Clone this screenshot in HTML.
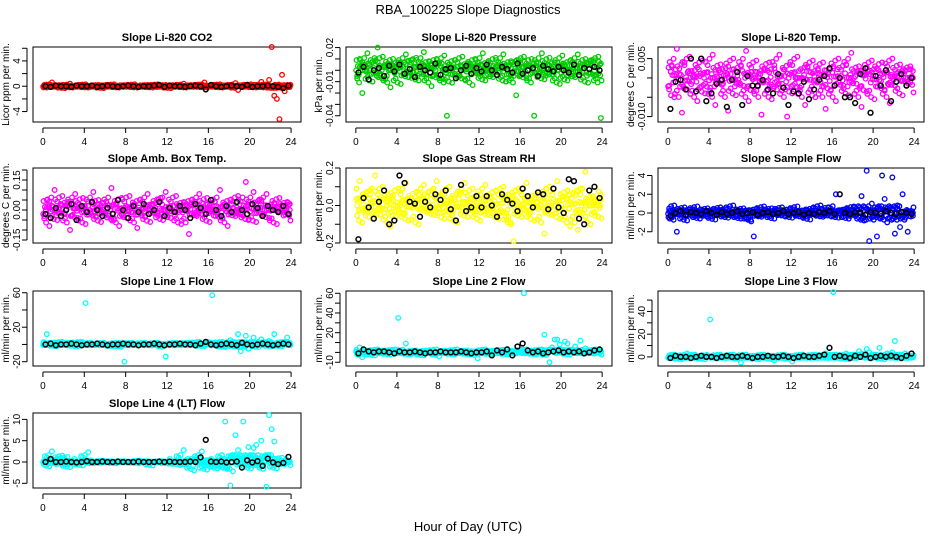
<!DOCTYPE html>
<html><head><meta charset="utf-8"><style>
body{margin:0;background:#fff;}
svg{display:block;font-family:"Liberation Sans",sans-serif;}
</style></head><body>
<svg id="c" width="936" height="540" viewBox="0 0 936 540">
<text x="468" y="14" text-anchor="middle" font-size="13">RBA_100225  Slope Diagnostics</text>
<text x="468" y="531" text-anchor="middle" font-size="13">Hour of Day (UTC)</text>
</svg>
<script>
const titles=["Slope Li-820 CO2","Slope Li-820 Pressure","Slope Li-820 Temp.","Slope Amb. Box Temp.","Slope Gas Stream RH","Slope Sample Flow","Slope Line 1 Flow","Slope Line 2 Flow","Slope Line 3 Flow","Slope Line 4 (LT) Flow"];
const ylabels=["Licor ppm per min.","kPa per min.","degrees C per min.","degrees C per min.","percent per min.","ml/min per min.","ml/min per min.","ml/min per min.","ml/min per min.","ml/min per min."];
const colors=["#ff0000","#00cc00","#ff00ff","#ff00ff","#ffff00","#0000ff","#00ffff","#00ffff","#00ffff","#00ffff"];
const scales=[10,1000,10000,100,100,10,1,1,1,10];
const yMin=[-5.65,-0.0455,-0.0114,-0.165,-0.2,-3.2,-25,-13.8,-8,-6.1];
const yMax=[6.2,0.0205,0.008,0.21,0.2,4.8,62,62.3,58,11.5];
const yTicks=[[-4,-2,0,2,4,6],[-0.04,-0.03,-0.02,-0.01,0,0.01,0.02],[-0.01,-0.005,0,0.005],[-0.15,-0.1,-0.05,0,0.05,0.1,0.15,0.2],[-0.2,-0.1,0,0.1,0.2],[-2,0,2,4],[-20,0,20,40,60],[-10,0,10,20,30,40,50,60],[0,10,20,30,40,50],[-5,0,5,10]];
const yTickLabels=[["-4","","0","","4",""],["-0.04","","","-0.01","","","0.02"],["-0.010","","","0.005"],["-0.15","","","0.00","","","0.15",""],["-0.2","","0.0","","0.2"],["-2","0","2","4"],["-20","","20","","60"],["-10","","","20","","40","","60"],["0","","20","","40",""],["-5","0","5","10"]];
const xTicks=[0,4,8,12,16,20,24];
const c1=[1,-2,3,6,2,-1,0,2,-3,1,4,-2,0,1,-1,2,3,-2,1,0,-1,2,1,-3,0,2,-1,3,1,-2,0,1,2,-1,0,3,-2,1,0,-1,2,1,-2,0,3,1,-1,2,0,-3,1,2,-1,0,4,-2,1,0,2,-1,0,3,6,-2,1,0,-1,2,3,-2,1,0,2,-1,5,-6,1,0,2,-1,3,1,-2,0,7,1,-2,10,62,-15,-20,-52,18,-8,2,1];
const k1=[0,-1,1,0,0,-1,1,0,0,1,-1,0,1,0,-1,0,1,0,-1,0,0,1,2,-1,1,0,0,-1,0,1,0,-5,2,0,-1,0,1,0,-1,2,-1,0,0,1,0,-1,-3,1];
const c2=[-5,10,-20,5,15,0,-10,8,20,-3,12,-8,5,-15,10,0,7,-12,3,14,-6,9,-2,11,-9,4,16,-4,8,-14,2,10,-7,6,13,-40,0,-11,9,3,-5,12,-8,6,1,-13,10,4,-3,15,-9,7,0,-6,11,-2,5,14,-10,3,8,-5,-22,9,-1,12,-7,4,10,-40,6,-3,15,-8,2,11,-4,7,0,-12,13,5,-9,8,1,-6,14,3,-2,10,-11,6,9,-4,12,-42];
const k2=[-2,3,-8,0,2,-5,4,-1,5,-3,1,-6,3,0,-2,6,-4,1,2,-7,0,4,-3,2,-1,5,0,-4,3,1,-2,6,-3,0,2,-5,4,1,-1,3,0,-2,5,-4,2,1,3,0];
const c3=[-20,30,-50,75,10,-90,40,-30,55,-10,20,-60,5,45,-40,15,-25,60,-70,0,35,-15,25,-85,10,50,-45,-5,30,-20,70,-60,15,-35,45,0,-95,20,-10,40,-55,25,-30,60,-15,5,-100,35,-40,15,55,-25,0,-70,30,-5,45,-50,20,-10,40,-80,10,-30,25,-60,50,5,-20,35,-45,65,0,-15,30,-75,20,-35,10,45,-55,25,-5,40,-30,15,-65,50,-20,5,35,-45,20,-10,30,0];
const k3=[-80,-10,-5,-30,50,-35,50,-60,-40,-15,-5,-75,-5,15,-70,5,-20,-20,-5,-30,-40,10,-25,-70,-35,-40,-10,-55,-30,-5,5,25,-20,0,-50,-50,-65,10,25,-90,5,-20,20,-60,-10,10,-20,0];
const c4=[-3,5,-8,2,10,-5,0,7,-2,4,-10,3,8,-4,1,6,-7,2,-1,9,-3,5,-6,0,4,-2,11,-5,3,-8,6,1,-4,7,-1,2,-9,5,0,-3,8,-6,3,1,-2,6,-5,9,0,-4,2,7,-1,-7,4,0,-12,5,3,-3,8,-2,1,6,-6,0,4,-1,10,-4,2,-8,5,1,-3,7,-2,0,14,-5,3,9,-6,1,5,-2,8,-4,0,3,-7,6,2,-1,4,0];
const k4=[-2,-4,1,-3,0,3,-5,2,-1,4,0,-3,1,-2,5,0,-4,2,-1,3,-2,0,4,-3,1,-1,2,0,-4,3,1,-2,5,0,-3,2,-1,4,0,-2,3,1,-3,2,0,-1,2,-2];
const c5=[0,13,-9,5,-3,8,-7,16,2,-5,10,-2,6,-11,3,-6,9,0,-4,12,-8,4,-1,7,-10,3,11,-3,0,8,-5,13,-2,6,-7,1,10,-4,3,-9,7,-1,12,-6,2,9,-3,5,-8,0,11,-5,4,-2,8,-7,1,10,-4,6,-10,-19,3,9,-6,0,12,-3,5,-8,2,7,-1,-15,4,10,-5,0,13,-7,3,-2,8,-11,6,1,-13,9,-4,18,2,-10,5,0,-6,3];
const k5=[-18,4,-1,-7,2,8,-10,-8,16,12,2,1,-6,2,-1,6,3,8,-2,-8,11,-3,-1,5,-1,5,0,-6,6,3,1,-3,9,5,-1,7,6,-2,9,-1,-4,14,13,-7,-10,8,10,4];
const c6=[2,-5,8,-20,3,-2,6,-8,1,4,-3,7,-6,2,0,5,-4,3,-7,1,6,-2,4,-5,0,8,-3,2,-6,5,-1,3,-9,-25,4,0,-4,7,-2,1,5,-6,3,-1,6,-3,0,4,-5,2,7,-1,-4,3,0,-7,5,2,-2,8,-4,1,6,-3,0,20,-5,3,-1,4,-6,2,7,-2,0,18,-8,45,-30,10,3,-25,-5,40,15,-10,5,38,-22,8,-15,20,-5,-20,2,0];
const k6=[-3,0,2,-2,1,0,-1,2,0,-2,1,-1,0,2,-1,0,1,-2,0,1,-1,0,2,-1,0,1,-2,0,-1,1,0,2,-1,20,0,-1,1,0,-2,1,0,-1,2,0,-1,1,0,-1];
const c7=[0,12,-1,2,0,-2,1,3,0,-1,2,0,1,-2,3,0,48,-1,2,0,1,-1,0,2,-1,0,1,-2,0,2,1,-20,0,-1,2,0,1,-1,0,2,-1,0,1,0,2,-1,0,-14,1,0,-1,2,0,-1,1,0,2,0,-1,1,3,0,-2,1,0,57,2,-1,0,3,-3,1,5,-2,0,12,-8,3,10,-5,1,8,0,-3,6,2,-1,4,-2,12,0,1,-2,3,8,0];
const k7=[0,1,-1,0,0,1,0,-1,0,0,1,0,-1,0,0,1,0,0,-1,0,0,1,0,-1,0,0,1,0,0,-1,1,3,0,-1,0,1,0,-1,2,0,-1,0,1,0,-1,0,1,0];
const c8=[0,5,-5,1,-2,2,0,-3,3,0,-1,2,1,-2,0,3,35,-1,0,9,1,-2,0,2,-1,0,-3,1,2,0,-1,3,-4,0,1,-1,2,0,-2,3,1,-1,0,2,-2,0,1,-6,0,-1,3,0,1,-2,2,0,-1,1,3,-2,0,1,-1,2,0,60,3,-1,0,2,-2,1,3,18,0,-10,5,13,13,8,0,11,9,-2,3,6,1,12,-1,4,0,2,-1,3,0,1];
const k8=[-1,3,1,0,1,1,0,-1,1,0,0,1,0,-1,0,0,1,0,0,0,1,0,-1,0,0,1,-3,2,0,3,-3,6,9,2,0,1,-1,0,1,2,0,1,0,1,-1,0,2,3];
const c9=[0,-1,2,0,1,-2,0,3,-1,0,2,-1,1,0,-2,1,33,0,1,-1,2,0,-1,1,0,2,-1,0,-5,1,2,0,-1,0,1,-2,0,2,-1,1,0,-3,1,0,-1,2,0,1,-4,0,1,-1,2,0,1,-1,0,2,-1,0,1,3,-1,0,57,2,-1,0,1,3,-2,0,2,-1,5,3,0,7,4,-1,2,0,8,1,-2,3,0,4,14,-1,2,0,3,-1,1,0];
const k9=[-1,1,0,0,-1,0,1,0,0,-1,0,1,0,0,1,0,-1,0,0,1,0,0,1,0,-1,0,1,0,0,1,2,8,0,1,0,-1,1,0,2,-1,0,1,0,1,0,-1,1,3];
const c10=[0,2,-10,25,3,-3,5,15,-5,12,-12,3,0,-5,2,-8,0,23,4,-3,1,0,-2,3,0,-1,2,0,-3,1,0,2,-1,0,1,-2,0,3,-1,0,2,0,-8,1,0,-1,2,0,-3,1,0,-5,2,1,28,-6,0,3,-20,2,10,25,0,-18,5,-10,0,-15,3,-12,95,-3,-55,-22,63,28,8,95,-5,35,-15,33,40,-8,50,0,-58,110,77,48,-15,0,10,-5,3,0];
const k10=[0,7,0,0,1,0,-1,0,2,0,0,1,0,0,1,0,0,0,1,0,0,0,1,0,1,0,0,0,1,0,11,52,1,0,1,-1,0,1,-13,4,-1,2,-9,8,-1,-5,-2,12];
const colored=[c1,c2,c3,c4,c5,c6,c7,c8,c9,c10];
const black=[k1,k2,k3,k4,k5,k6,k7,k8,k9,k10];

const svg=document.getElementById('c');
const NS='http://www.w3.org/2000/svg';
const colL=[33,346,658],colR=[301,612,924],rowT=[47,168,291,413],PH=75;
function mk(tag,attrs,parent){const e=document.createElementNS(NS,tag);for(const k in attrs)e.setAttribute(k,attrs[k]);(parent||svg).appendChild(e);return e;}
for(let p=0;p<10;p++){
  const col=p%3,row=Math.floor(p/3);
  const L=colL[col],R=colR[col],T=rowT[row],B=T+PH;
  const g=mk('g',{});
  
  
  const xs=h=>L+(h+0.96)/25.92*(R-L);
  const ys=v=>B-(v-yMin[p])/(yMax[p]-yMin[p])*PH;
  const t=mk('text',{x:(L+R)/2,y:T-6,'text-anchor':'middle','font-size':11,'font-weight':'bold'},g);
  t.textContent=titles[p];
  
  
  const yl=mk('text',{x:0,y:0,'text-anchor':'middle','font-size':10,transform:`translate(${L-24},${(T+B)/2}) rotate(-90)`},g);
  yl.textContent=ylabels[p];
  
  
  mk('line',{x1:xs(0),x2:xs(24),y1:B+6,y2:B+6,stroke:'#000','stroke-width':1},g);
  xTicks.forEach(h=>{
    mk('line',{x1:xs(h),x2:xs(h),y1:B+6,y2:B+11,stroke:'#000'},g);
    const tx=mk('text',{x:xs(h),y:B+23,'text-anchor':'middle','font-size':10},g);
    tx.textContent=h;
    
    
  });
  const tk=yTicks[p];
  mk('line',{x1:L-6,x2:L-6,y1:ys(tk[0]),y2:ys(tk[tk.length-1]),stroke:'#000'},g);
  tk.forEach((v,i)=>{
    mk('line',{x1:L-11,x2:L-6,y1:ys(v),y2:ys(v),stroke:'#000'},g);
    if(yTickLabels[p][i]){
      const ty=mk('text',{x:0,y:0,'text-anchor':'middle','font-size':10,transform:`translate(${L-13},${ys(v)}) rotate(-90)`},g);
      ty.textContent=yTickLabels[p][i];
      
      
    }
  });
  mk('rect',{x:L,y:T,width:R-L,height:PH,fill:'none',stroke:'#000','stroke-width':1},g);
  const pts=mk('g',{},g);
  const cs=colored[p],n=cs.length;
  const absSorted=cs.map(Math.abs).sort((a,b)=>a-b);
  const lim=absSorted[Math.floor(n*0.8)]||1;
  cs.forEach((v,i)=>{
    const c=mk('circle',{cx:xs((i+0.5)*24/n),cy:ys(v/scales[p]),r:2.3,fill:'none',stroke:colors[p],'stroke-width':1.3},pts);
    
    
  });
  // extra density passes: neighbours' values, clamped to typical spread, varied shrink
  [[0.25,1,0.9],[0.5,2,0.6],[0.75,3,0.75],[0.1,5,0.4]].forEach(([off,sh,f])=>{
    cs.forEach((_,i)=>{
      let v=cs[(i+sh)%n];
      v=Math.max(-lim,Math.min(lim,v))*f;
      const c=mk('circle',{cx:xs(Math.min(24,(i+off)*24/n)),cy:ys(v/scales[p]),r:2.3,fill:'none',stroke:colors[p],'stroke-width':1.3},pts);
      
      
    });
  });
  const ks=black[p],m=ks.length;
  ks.forEach((v,i)=>{
    const c=mk('circle',{cx:xs((i+0.5)*24/m),cy:ys(v/scales[p]),r:2.4,fill:'none',stroke:'#000','stroke-width':1.5},pts);
    
    
  });
}
</script>
</body></html>
